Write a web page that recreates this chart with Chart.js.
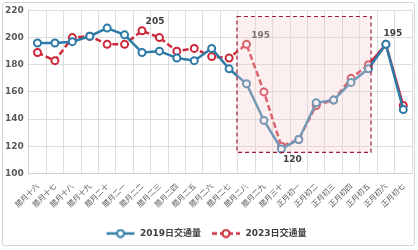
<!DOCTYPE html>
<html>
<head>
<meta charset="utf-8">
<script src="https://cdn.jsdelivr.net/npm/chart.js@4.4.0/dist/chart.umd.min.js"></script>
<style>
  html, body { margin: 0; padding: 0; background: #fff; }
  #wrap { position: relative; width: 418px; height: 250px; }
  #frame { position: absolute; left: 2px; top: 2px; width: 411px; height: 242px;
           border: 1px solid #d4d4d4; border-radius: 3px; pointer-events: none; }
</style>
</head>
<body>
<div id="wrap">
  <canvas id="trafficChart" width="418" height="250"></canvas>
  <div id="frame"></div>
</div>
<script>
// 春节前后日交通量对比
const days = [
    '腊月十六', '腊月十七', '腊月十八', '腊月十九', '腊月二十',
    '腊月二一', '腊月二二', '腊月二三', '腊月二四', '腊月二五',
    '腊月二六', '腊月二七', '腊月二八', '腊月二九', '腊月三十',
    '正月初一', '正月初二', '正月初三', '正月初四', '正月初五',
    '正月初六', '正月初七'
];
const traffic2019 = [196, 196, 197, 201, 207, 202, 189, 190, 185, 183, 192,
                     177, 166, 139, 118, 125, 152, 154, 167, 177, 195, 147];
const traffic2023 = [189, 183, 200, 201, 195, 195, 205, 200, 190, 192, 186,
                     185, 195, 160, 120, 125, 150, 154, 170, 180, 195, 150];
const yTicks = [100, 120, 140, 160, 180, 200, 220];

const BLUE = '#2f7ba7';
const RED = '#cc283a';

// 图例里的小图标: 线 + 圆圈
function legendIcon(color, dashed) {
    const c = document.createElement('canvas');
    c.width = 30; c.height = 10;
    const g = c.getContext('2d');
    g.strokeStyle = color;
    g.lineWidth = 2.5;
    if (dashed) g.setLineDash([5, 3]);
    g.beginPath(); g.moveTo(1, 5); g.lineTo(29, 5); g.stroke();
    g.setLineDash([]);
    g.fillStyle = '#fff';
    g.lineWidth = 2;
    g.beginPath(); g.arc(15, 5, 3.5, 0, Math.PI * 2); g.fill(); g.stroke();
    return c;
}

// 数据标签 + 框出春节区域
const annotate = {
    id: 'annotate',
    afterDatasetsDraw(chart) {
        const ctx = chart.ctx;
        const x = chart.scales.x, y = chart.scales.y;
        const marks = [
            { ds: 1, i: 6, dx: 13, dy: -9 },
            { ds: 1, i: 12, dx: 14, dy: -9 },
            { ds: 1, i: 14, dx: 11, dy: 13 },
            { ds: 1, i: 20, dx: 7, dy: -11 }
        ];
        ctx.save();
        ctx.font = 'bold 9px "DejaVu Sans"';
        ctx.textAlign = 'center';
        ctx.textBaseline = 'middle';
        ctx.fillStyle = '#404040';
        marks.forEach(m => {
            const v = chart.data.datasets[m.ds].data[m.i];
            ctx.fillText(String(v), x.getPixelForValue(m.i) + m.dx, y.getPixelForValue(v) + m.dy);
        });
        // 春节区域
        const left = x.getPixelForValue(11.45), right = x.getPixelForValue(19.15);
        const top = y.getPixelForValue(215.5), bottom = y.getPixelForValue(115.5);
        ctx.fillStyle = 'rgba(245, 210, 212, 0.35)';
        ctx.fillRect(left, top, right - left, bottom - top);
        ctx.strokeStyle = '#9c1f35';
        ctx.lineWidth = 1.2;
        ctx.setLineDash([4, 3]);
        ctx.strokeRect(left, top, right - left, bottom - top);
        ctx.restore();
    }
};

const ctx = document.getElementById('trafficChart').getContext('2d');
new Chart(ctx, {
    type: 'line',
    data: {
        labels: days,
        datasets: [{
            label: '2019日交通量',
            data: traffic2019,
            borderColor: BLUE,
            backgroundColor: '#fff',
            pointBorderColor: BLUE,
            pointBackgroundColor: '#fff',
            borderWidth: 2.5,
            pointRadius: 3.5,
            pointBorderWidth: 2,
            tension: 0
        }, {
            label: '2023日交通量',
            data: traffic2023,
            borderColor: RED,
            backgroundColor: '#fff',
            pointBorderColor: RED,
            pointBackgroundColor: '#fff',
            borderWidth: 2.5,
            pointRadius: 3.5,
            pointBorderWidth: 2,
            tension: 0,
            borderDash: [6, 3],
            segment: {
                borderDash: c => c.p0DataIndex >= 19 ? [] : [6, 3]
            }
        }]
    },
    options: {
        responsive: false,
        animation: false,
        layout: { padding: { left: 0, right: 6, top: 1, bottom: 2 } },
        scales: {
            x: {
                offset: true,
                grid: { offset: true, color: '#dcdcdc', drawTicks: false },
                border: { color: '#cfcfcf' },
                afterFit: s => { s.height += 2; },
                ticks: {
                    autoSkip: false,
                    maxRotation: 45,
                    minRotation: 45,
                    padding: 8,
                    color: '#595959',
                    font: { family: '"Noto Sans CJK SC"', size: 7.5 }
                }
            },
            y: {
                min: yTicks[0],
                max: yTicks[yTicks.length - 1],
                afterBuildTicks: axis => { axis.ticks = yTicks.map(v => ({ value: v })); },
                grid: { color: '#dcdcdc', drawTicks: false },
                border: { color: '#cfcfcf' },
                ticks: {
                    padding: 5,
                    color: '#595959',
                    font: { family: '"DejaVu Sans"', size: 9, weight: 'bold' }
                }
            }
        },
        plugins: {
            legend: {
                position: 'bottom',
                labels: {
                    usePointStyle: true,
                    pointStyleWidth: 30,
                    boxHeight: 10,
                    padding: 10,
                    color: '#404040',
                    font: { family: '"DejaVu Sans", "Noto Sans CJK SC"', size: 9, weight: 'bold' },
                    generateLabels: chart => chart.data.datasets.map((ds, i) => ({
                        text: ds.label,
                        datasetIndex: i,
                        fontColor: '#404040',
                        pointStyle: legendIcon(ds.borderColor, i === 1),
                        strokeStyle: ds.borderColor,
                        fillStyle: '#fff',
                        lineWidth: 0
                    }))
                }
            },
            tooltip: { enabled: false }
        }
    },
    plugins: [annotate]
});
</script>
</body>
</html>
